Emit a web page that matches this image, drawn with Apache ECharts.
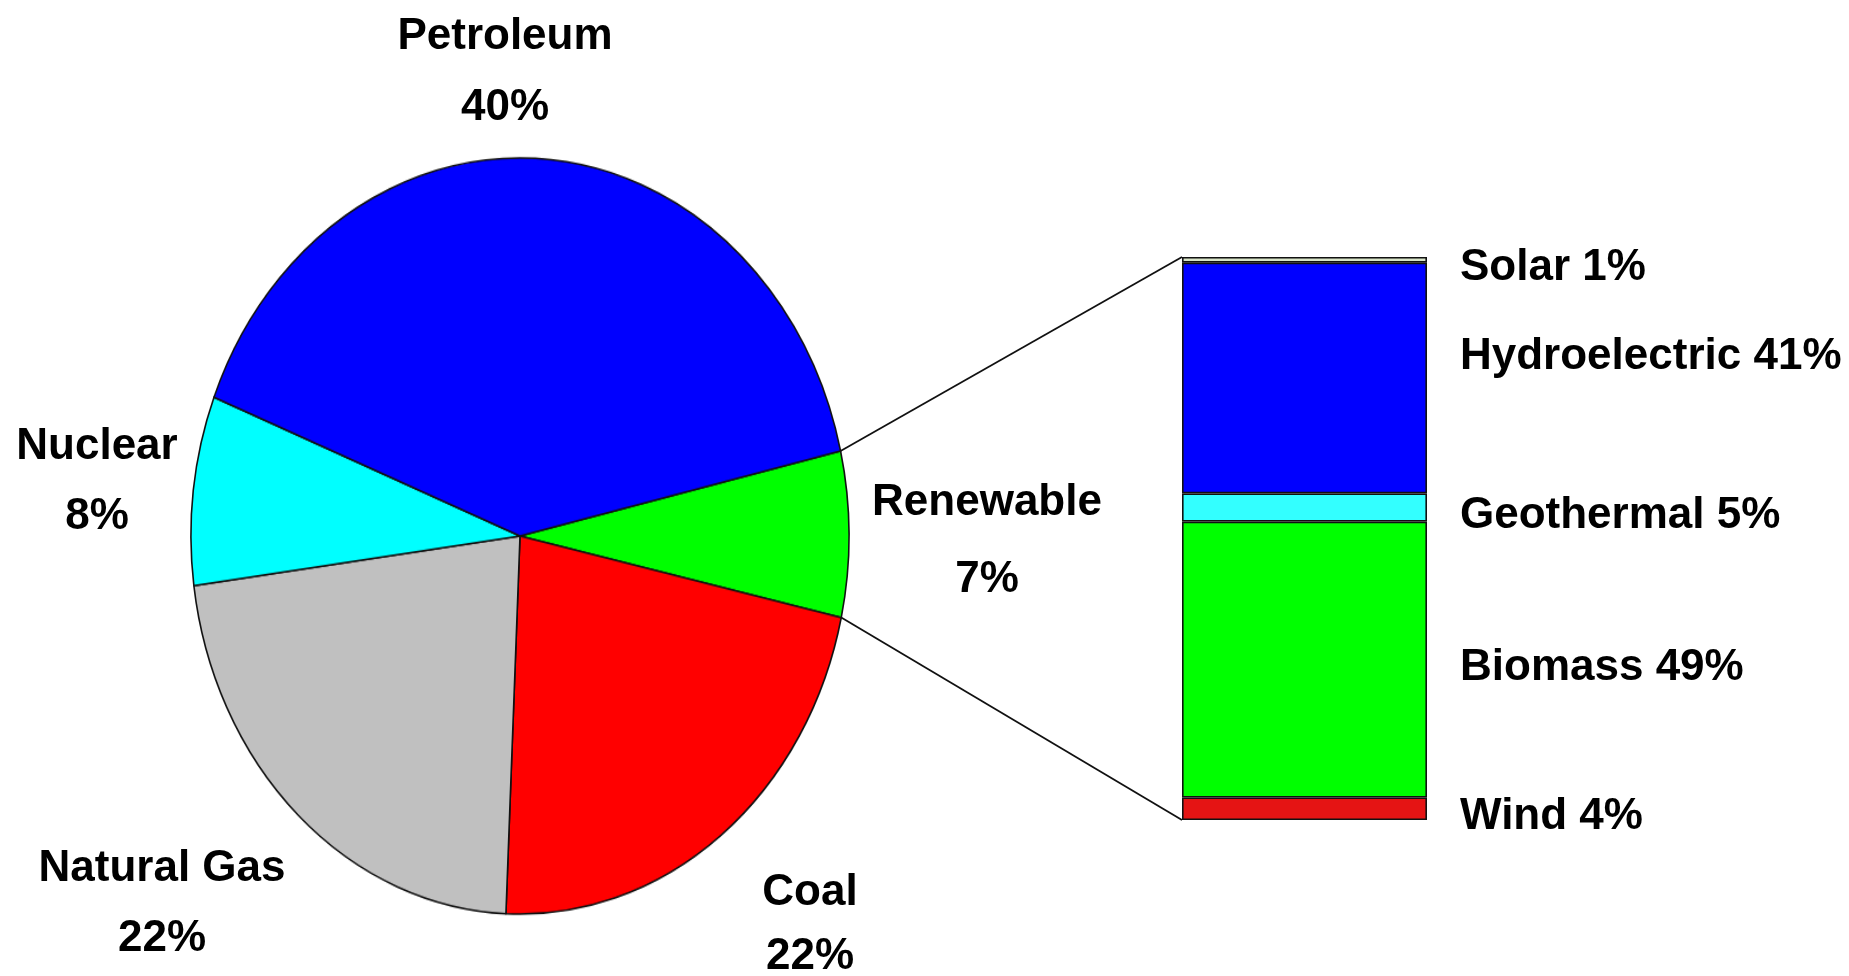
<!DOCTYPE html>
<html><head><meta charset="utf-8">
<script src="https://cdn.jsdelivr.net/npm/echarts/dist/echarts.min.js"></script>
<style>
html,body{margin:0;padding:0;background:#fff;overflow:hidden}
#wrap{position:relative;width:1849px;height:976px;background:#fff}
#pie{position:absolute;left:0;top:0;width:1849px;height:976px;transform-origin:520px 536px;transform:scaleY(1.149)}
#main{position:absolute;left:0;top:0;width:1849px;height:976px}
</style></head>
<body><div id="wrap"><div id="pie"></div><div id="main"></div></div>
<script>
// Energy sources (clockwise from the Renewable slice)
const sources = ['Renewable', 'Coal', 'Natural Gas', 'Nuclear', 'Petroleum'];
const sourceShares = [7, 22, 22, 8, 40];
// Renewable breakdown (bottom to top of the stacked bar)
const renewables = ['Wind', 'Biomass', 'Geothermal', 'Hydroelectric', 'Solar'];
const renewableShares = [4, 49, 5, 41, 1];

const pieColors = {'Renewable':'#00ff00','Coal':'#ff0000','Natural Gas':'#c0c0c0','Nuclear':'#00ffff','Petroleum':'#0000ff'};
const barColors = {'Wind':'#e51414','Biomass':'#00ff00','Geothermal':'#33ffff','Hydroelectric':'#0000ff','Solar':'#d8e4c8'};
const barLabelShift = {'Wind':8,'Biomass':8,'Geothermal':8,'Hydroelectric':-21,'Solar':8};

const PIE = {cx:520, cy:536, r:329, k:1.149, start:13};
const GRID = {left:1182, top:257, width:245, height:563};
const FONT = '"Liberation Sans", Arial, sans-serif';
const FS = 44;
const labelPos = {
  'Petroleum':[505,37,108], 'Nuclear':[97,447,517], 'Natural Gas':[162,869,939],
  'Coal':[810,893,957], 'Renewable':[987,503,580]
};

const pieChart = echarts.init(document.getElementById('pie'), null, {renderer:'canvas'});
pieChart.setOption({
  animation:false,
  series:[{
    type:'pie', center:[PIE.cx, PIE.cy], radius:PIE.r, startAngle:PIE.start, clockwise:true,
    avoidLabelOverlap:false, label:{show:false}, labelLine:{show:false},
    emphasis:{disabled:true}, silent:true,
    itemStyle:{borderColor:'#111', borderWidth:1.6},
    data: sources.map((n,i)=>({name:n, value:sourceShares[i], itemStyle:{color:pieColors[n]}}))
  }]
});

// boundary points of the Renewable slice on the (stretched) pie
const total = sourceShares.reduce((a,b)=>a+b,0);
const a1 = PIE.start*Math.PI/180;
const a2 = (PIE.start - 360*sourceShares[0]/total)*Math.PI/180;
const p1 = [PIE.cx + PIE.r*Math.cos(a1), PIE.cy - PIE.r*PIE.k*Math.sin(a1)];
const p2 = [PIE.cx + PIE.r*Math.cos(a2), PIE.cy - PIE.r*PIE.k*Math.sin(a2)];

const graphics = [
  {type:'line', shape:{x1:p1[0], y1:p1[1], x2:GRID.left, y2:GRID.top}, style:{stroke:'#111', lineWidth:1.8}},
  {type:'line', shape:{x1:p2[0], y1:p2[1], x2:GRID.left, y2:GRID.top+GRID.height}, style:{stroke:'#111', lineWidth:1.8}}
];
sources.forEach((n,i)=>{
  const p = labelPos[n];
  graphics.push({type:'text', x:p[0], y:p[1], style:{text:n, fill:'#000', font:'bold '+FS+'px '+FONT, textAlign:'center', textVerticalAlign:'middle'}});
  graphics.push({type:'text', x:p[0], y:p[2], style:{text:sourceShares[i]+'%', fill:'#000', font:'bold '+FS+'px '+FONT, textAlign:'center', textVerticalAlign:'middle'}});
});

const main = echarts.init(document.getElementById('main'), null, {renderer:'canvas'});
main.setOption({
  animation:false,
  grid:{left:GRID.left, top:GRID.top, width:GRID.width, height:GRID.height},
  xAxis:{type:'category', data:['Renewable'], show:false},
  yAxis:{type:'value', min:0, max:100, show:false},
  series: renewables.map((n,i)=>({
    type:'bar', stack:'renew', name:n, data:[renewableShares[i]], barWidth:'100%',
    silent:true,
    itemStyle:{color:barColors[n], borderColor:'#111', borderWidth:1.6},
    label:{show:true, position:'right', distance:33, offset:[0, barLabelShift[n]], color:'#000', fontSize:FS, fontWeight:'bold', fontFamily:FONT,
      formatter: n + ' ' + renewableShares[i] + '%'}
  })),
  graphic: graphics
});
</script>
</body></html>
